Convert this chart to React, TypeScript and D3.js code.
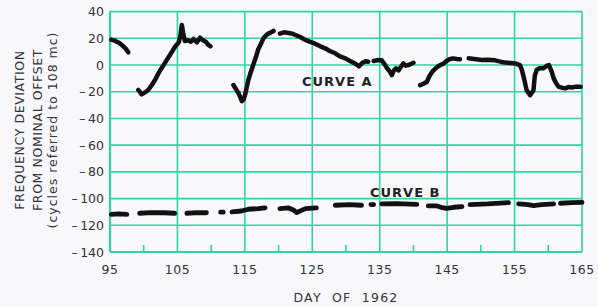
import React from "react";
import * as d3 from "d3";

// ---- data ----
const xTicks = [95, 105, 115, 125, 135, 145, 155, 165];
const xMinorTicks = [100, 110, 120, 130, 140, 150, 160];
const yTicks = [40, 20, 0, -20, -40, -60, -80, -100, -120, -140];

// curve A: [day, value], null = gap
const curveA: ([number, number] | null)[] = [
  [95.2, 19], [95.6, 18.5], [96.0, 17.5], [96.4, 16.5], [96.8, 14.8], [97.3, 12.5], [97.7, 9.5],
  null,
  [99.2, -18.7], [99.7, -22], [100.2, -20.5], [100.7, -18.5], [101.2, -15], [101.7, -11], [102.1, -7],
  [102.5, -3.5], [103.2, 2], [103.7, 6], [104.2, 10], [104.7, 14], [105.2, 17], [105.45, 22],
  [105.65, 30], [105.85, 24], [106.1, 18], [106.6, 18.5], [107.0, 17.5], [107.4, 19.5], [107.9, 17],
  [108.35, 20.5], [108.8, 18.5], [109.2, 17.5], [109.6, 15], [109.9, 14],
  null,
  [113.3, -15], [113.8, -19], [114.1, -21.5], [114.55, -27], [114.8, -26], [115.05, -22],
  [115.5, -11.5], [115.9, -5], [116.3, 1], [116.7, 7], [117.0, 12], [117.4, 16], [117.75, 20],
  [118.2, 22.5], [118.5, 23.5], [118.9, 24.5], [119.25, 25.5],
  null,
  [120.2, 23.5], [120.8, 24.5], [121.5, 24], [122.0, 23.5], [122.5, 22.5], [123.2, 21], [123.9, 19],
  [124.6, 17.5], [125.4, 16], [126.2, 14], [126.9, 12.5], [127.6, 10.5], [128.4, 8.8], [129.1, 6.5],
  [129.9, 5], [130.6, 3], [131.4, 1], [131.9, -1], [132.4, 1.5], [132.9, 2.8], [133.3, 2.5],
  null,
  [134.1, 3], [134.7, 3.7], [135.3, 3.5], [135.8, 0], [136.1, -2.5], [136.5, -5], [136.8, -7.5],
  [137.1, -4], [137.4, -2.5], [137.8, -4], [138.2, -1], [138.5, 1.2], [138.9, -0.5], [139.3, 0],
  [139.7, 1], [140.0, 1.7],
  null,
  [141.0, -15], [141.5, -14], [142.0, -12.5], [142.4, -8], [142.8, -5], [143.5, -1.5], [144.0, 0],
  [144.5, 1.2], [144.9, 3], [145.3, 4.3], [145.9, 5], [146.4, 4.5], [146.9, 4.3],
  null,
  [148.2, 5], [149.0, 4.5], [150.2, 3.7], [151.0, 4], [152.1, 3.5], [152.9, 2.5], [153.6, 1.8],
  [154.4, 1.5], [155.1, 1.2], [155.8, 0], [156.1, -4], [156.4, -10], [156.8, -19], [157.3, -22.5],
  [157.8, -19], [158.0, -8], [158.3, -3.5], [158.7, -2.5], [159.3, -2.5], [159.8, -0.5], [160.1, 0],
  [160.5, -5], [160.8, -10], [161.1, -13], [161.5, -16.2], [162.0, -17], [162.5, -17.5], [163.0, -16.5],
  [163.5, -16.8], [164.1, -16.2], [164.8, -16.2],
];

// curve B: dashed measured curve
const curveB: ([number, number] | null)[] = [
  [95.2, -111.8], [96.3, -111.5], [97.5, -111.8],
  null,
  [99.4, -111], [101, -110.5], [103, -110.6], [104.6, -111],
  null,
  [106.4, -111], [108, -110.5], [109.3, -110.6],
  null,
  [111.4, -110.2], [111.8, -110.2],
  null,
  [113.1, -110], [114.5, -109.3], [115.5, -108], [117, -107.5], [118, -107],
  null,
  [120.2, -107.5], [121.5, -107], [122.2, -108.5], [122.7, -110.5], [123.3, -109], [124, -107.5], [125.6, -107],
  null,
  [128.4, -105], [130.5, -104.5], [132.3, -105],
  null,
  [133.7, -104.5], [134.1, -104.5],
  null,
  [135.3, -104], [137.5, -103.8], [140.5, -104.3],
  null,
  [142.2, -105.5], [143.5, -105.5], [144.3, -106.8], [144.9, -107.3], [146, -106.5], [147.2, -106],
  null,
  [148.4, -104.5], [151, -104], [154.1, -103],
  null,
  [155.6, -104], [157, -104.5], [157.8, -105.2], [159, -104.5], [160.8, -104],
  null,
  [161.8, -103.5], [163.5, -103], [165, -102.8],
];

const yLabelLines = [
  "FREQUENCY DEVIATION",
  "FROM NOMINAL OFFSET",
  "(cycles referred to 108 mc)",
];

const W = 598;
const H = 307;
const GRID = "#2ed69c";
const FONT = "'DejaVu Sans', sans-serif";

export default function App() {
  const x = d3.scaleLinear().domain([95, 165]).range([110, 582]);
  const y = d3.scaleLinear().domain([-140, 40]).range([252, 11.6]);

  const line = d3
    .line<[number, number] | null>()
    .defined((d) => d !== null)
    .x((d) => x((d as [number, number])[0]))
    .y((d) => y((d as [number, number])[1]));

  const [x0, x1] = x.range();
  const [yb, yt] = y.range();

  const fmt = (v: number) => (v < 0 ? `\u2013\u2009${Math.abs(v)}` : `${v}`);

  return (
    <svg
      width={W}
      height={H}
      style={{ position: "absolute", left: 0, top: 0, background: "#f8f8fc" }}
    >
      <rect x={0} y={0} width={W} height={H} fill="#f8f8fc" />
      {/* grid */}
      {yTicks.map((t) => (
        <line key={"gy" + t} x1={x0} x2={x1} y1={y(t)} y2={y(t)} stroke={GRID} strokeWidth={1.6} />
      ))}
      {xTicks.map((t) => (
        <line key={"gx" + t} x1={x(t)} x2={x(t)} y1={yb} y2={yt} stroke={GRID} strokeWidth={1.6} />
      ))}
      {xMinorTicks.map((t) => (
        <line key={"mx" + t} x1={x(t)} x2={x(t)} y1={yb} y2={yb - 7} stroke={GRID} strokeWidth={1.6} />
      ))}
      <line x1={x0} x2={x1} y1={yb} y2={yb} stroke={GRID} strokeWidth={2.2} />
      <line x1={x0} x2={x0} y1={yb} y2={yt} stroke={GRID} strokeWidth={2.2} />

      {/* curves */}
      <path
        d={line(curveA) || ""}
        fill="none"
        stroke="#111"
        strokeWidth={4.5}
        strokeLinecap="round"
        strokeLinejoin="round"
      />
      <path
        d={line(curveB) || ""}
        fill="none"
        stroke="#111"
        strokeWidth={4.8}
        strokeLinecap="round"
        strokeLinejoin="round"
      />

      {/* curve labels */}
      <text x={302} y={86} fontFamily={FONT} fontSize={13} fontWeight="bold" fill="#222" letterSpacing={1}>
        CURVE  A
      </text>
      <text x={370} y={196.5} fontFamily={FONT} fontSize={13} fontWeight="bold" fill="#222" letterSpacing={1}>
        CURVE  B
      </text>

      {/* y tick labels */}
      {yTicks.map((t) => (
        <text
          key={"ly" + t}
          x={104}
          y={y(t)}
          dy="0.36em"
          textAnchor="end"
          fontFamily={FONT}
          fontSize={12.5}
          fill="#333"
          style={{ whiteSpace: "pre" }}
        >
          {fmt(t)}
        </text>
      ))}
      {/* x tick labels */}
      {xTicks.map((t) => (
        <text
          key={"lx" + t}
          x={x(t)}
          y={274}
          textAnchor="middle"
          fontFamily={FONT}
          fontSize={12.5}
          fill="#333"
          letterSpacing={0.5}
        >
          {t}
        </text>
      ))}
      <text
        x={(x0 + x1) / 2}
        y={301.5}
        textAnchor="middle"
        fontFamily={FONT}
        fontSize={12.5}
        fill="#333"
        letterSpacing={1.2}
        style={{ whiteSpace: "pre" }}
      >
        DAY  OF  1962
      </text>

      {/* y axis title */}
      {yLabelLines.map((s, i) => (
        <text
          key={"yl" + i}
          transform={`translate(${[24, 42, 57][i]},130) rotate(-90)`}
          textAnchor="middle"
          fontFamily={FONT}
          fontSize={12.5}
          fill="#333"
          letterSpacing={i === 2 ? 1 : 0.6}
          style={{ whiteSpace: "pre" }}
        >
          {s}
        </text>
      ))}
    </svg>
  );
}
